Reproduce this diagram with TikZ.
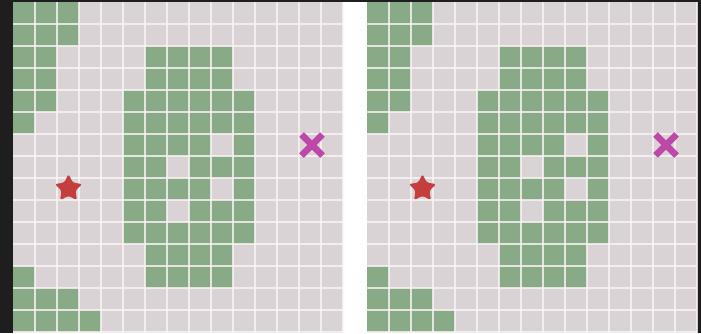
\documentclass[tikz,border=0pt]{standalone}
\usetikzlibrary{shapes.geometric}
\definecolor{bgdark}{RGB}{30,30,30}
\definecolor{cellgrey}{RGB}{218,211,213}
\definecolor{cellgreen}{RGB}{137,170,134}
\definecolor{starred}{RGB}{196,62,62}
\definecolor{xmag}{RGB}{190,72,168}
\definecolor{gridline}{RGB}{250,244,246}
\newcommand{\gridpanel}[2]{%
  \begin{scope}[shift={(#1,2)}]
    \fill[cellgrey] (0,0) rectangle (330,331);
    \foreach \r/\cl in {0/{0,1,2},1/{0,1,2},2/{0,1,6,7,8,9},3/{0,1,6,7,8,9},
        4/{0,1,5,6,7,8,9,10},5/{0,5,6,7,8,9,10},6/{5,6,7,8,10},7/{5,6,8,9,10},
        8/{5,6,7,8,10},9/{5,6,8,9,10},10/{5,6,7,8,9,10},11/{6,7,8,9},
        12/{0,6,7,8,9},13/{0,1,2},14/{0,1,2,3}}{
      \foreach \c in \cl {\fill[cellgreen] (\c*22,\r*22) rectangle ++(22,22);}
    }
    \foreach \i in {1,...,15}{
      \draw[gridlinestyle] (\i*22,0) -- (\i*22,331);
      \draw[gridlinestyle] (0,\i*22) -- (330,\i*22);
    }
    \node[goalstar] (star#2) at (2.5*22+0.5,8.5*22-0.5) {};
    \coordinate (x#2) at (13.5*22+2,6.5*22);
    \draw[crossmark] ([shift={(-10.5,-10.5)}]x#2) -- ([shift={(10.5,10.5)}]x#2);
    \draw[crossmark] ([shift={(-10.5,10.5)}]x#2) -- ([shift={(10.5,-10.5)}]x#2);
  \end{scope}}
\begin{document}
\begin{tikzpicture}[x=1pt,y=-1pt,
  gridlinestyle/.style={draw=gridline,opacity=0.8,line width=1.5pt},
  goalstar/.style={star,star points=5,star point ratio=2.0,minimum size=29pt,
    inner sep=0pt,fill=starred,rounded corners=2.5pt},
  crossmark/.style={draw=xmag,line width=6.5pt,line cap=butt}]
  \useasboundingbox (0,0) rectangle (701,333);
  \fill[bgdark] (0,0) rectangle (701,333);
  \fill[white] (343,2) rectangle (367,333);
  \gridpanel{13}{L}
  \gridpanel{367}{R}
\end{tikzpicture}
\end{document}
